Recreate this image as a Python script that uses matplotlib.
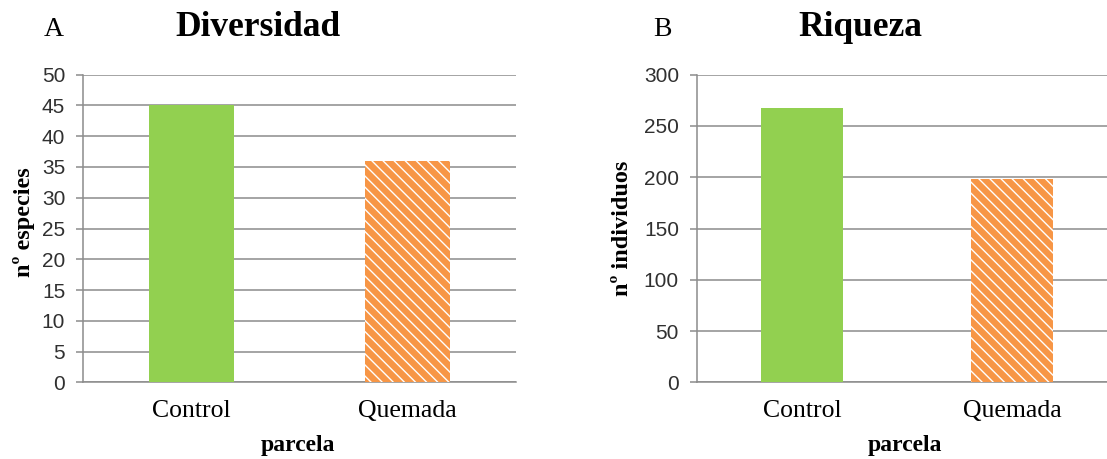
import matplotlib
matplotlib.use("Agg")
import matplotlib.pyplot as plt

# datos
parcelas = ["Control", "Quemada"]
especies = [45, 36]
individuos = [268, 198]

verde = "#92D050"
naranja = "#F79646"
gris = "#8C8C8C"

plt.rcParams['hatch.linewidth'] = 1.0
plt.rcParams['hatch.color'] = 'white'

W, H = 1107, 459
fig = plt.figure(figsize=(W / 100, H / 100), dpi=100)


def px(x, y):
    return x / W, 1 - y / H


def panel(rect, valores, ymax, paso):
    ax = fig.add_axes(rect)
    x = range(len(parcelas))
    barras = ax.bar(x, valores, width=0.395, color=[verde, naranja], linewidth=0, zorder=3)
    barras[1].set_hatch('\\\\\\')
    ax.set_xlim(-0.5, 1.5)
    ax.set_ylim(0, ymax)
    ax.set_yticks(range(0, ymax + 1, paso))
    ax.set_xticks(list(x))
    ax.set_xticklabels(parcelas, family="Liberation Serif", fontsize=18.5)
    for t in ax.get_yticklabels():
        t.set_family("Liberation Sans")
        t.set_fontsize(15)
        t.set_color("#303030")
    ax.grid(axis='y', color=gris, linewidth=1.1, zorder=0)
    for s in ['top', 'right']:
        ax.spines[s].set_visible(False)
    ax.spines['left'].set_color(gris)
    ax.spines['bottom'].set_color(gris)
    ax.spines['left'].set_linewidth(1.1)
    ax.spines['bottom'].set_linewidth(1.1)
    ax.tick_params(axis='y', length=5, color=gris, width=1.1, pad=8)
    ax.tick_params(axis='x', length=0, pad=13)
    return ax


axA = panel([83.3 / W, 1 - 382.3 / H, (515.7 - 83.3) / W, (382.3 - 74.7) / H], especies, 50, 5)
axB = panel([697 / W, 1 - 382.3 / H, 420 / W, (382.3 - 74.7) / H], individuos, 300, 50)

serif = "Liberation Serif"
fig.text(*px(54, 29), "A", family=serif, fontsize=20, ha='center', va='center')
fig.text(*px(258, 27), "Diversidad", family=serif, fontsize=25.5, weight='bold', ha='center', va='center')
fig.text(*px(662, 29), "B", family=serif, fontsize=20, ha='center', va='center')
fig.text(*px(860, 27), "Riqueza", family=serif, fontsize=25.5, weight='bold', ha='center', va='center')

fig.text(*px(298, 446), "parcela", family=serif, fontsize=17, weight='bold', ha='center', va='center')
fig.text(*px(905, 446), "parcela", family=serif, fontsize=17, weight='bold', ha='center', va='center')
fig.text(*px(24, 222), "nº especies", family=serif, fontsize=17.5, weight='bold', ha='center', va='center', rotation=90)
fig.text(*px(622, 228), "nº individuos", family=serif, fontsize=17.5, weight='bold', ha='center', va='center', rotation=90)

fig.savefig("out.png", dpi=100)
